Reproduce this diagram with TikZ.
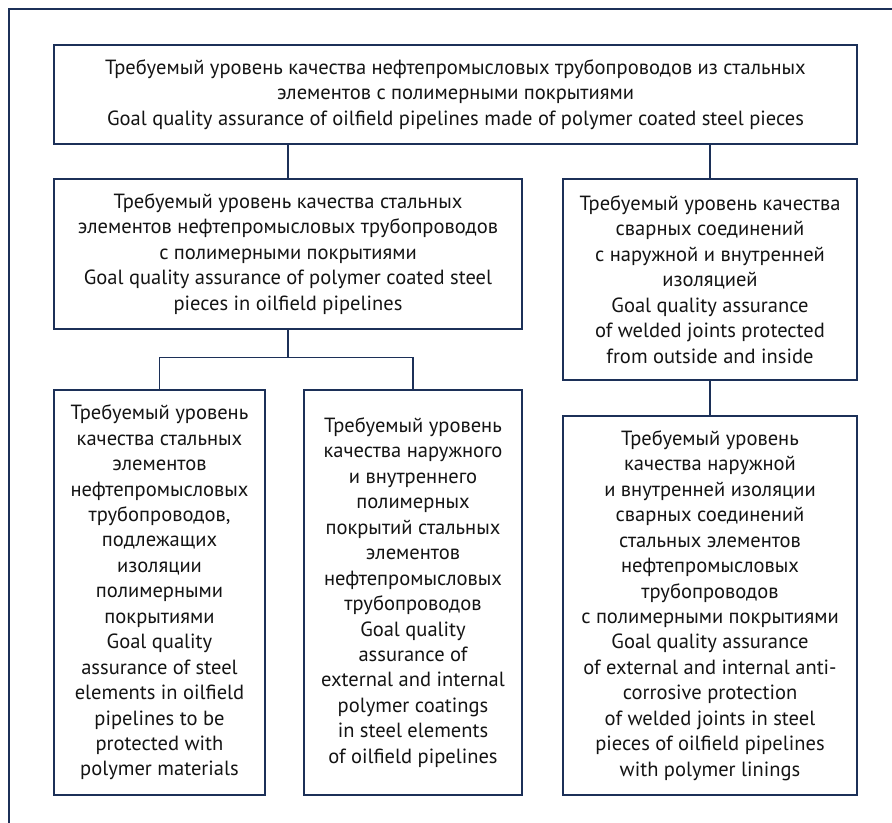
\documentclass[tikz,border=0pt]{standalone}
\usepackage{fontspec}
\setmainfont{PT Sans}
\usepackage{tikz}
\usetikzlibrary{positioning,calc}
\definecolor{frameblue}{RGB}{28,48,88}
\tikzset{goalbox/.style={draw=frameblue,line width=1pt,align=center,inner sep=2pt,text=black!92,font=\fontsize{14.6pt}{18.1pt}\selectfont},
link/.style={draw=frameblue,line width=1pt}}

\begin{document}
\begin{tikzpicture}
%\draw[help lines] (0,-21) grid (23,0);
\useasboundingbox (0,0) rectangle (22.3,-20.575);
\draw[link] (0.225,-20.575)--(0.225,-0.225)--(22.3,-0.225);

\node[goalbox,minimum width=20.075cm,minimum height=2.475cm] (top) at (11.3875,-2.3625) {Требуемый уровень качества нефтепромысловых трубопроводов из стальных\\элементов с полимерными покрытиями\\Goal quality assurance of oilfield pipelines made of polymer coated steel pieces};
\node[goalbox,minimum width=11.7cm,minimum height=3.75cm] (steel) at (7.2,-6.35) {Требуемый уровень качества стальных\\элементов нефтепромысловых трубопроводов\\с полимерными покрытиями\\Goal quality assurance of polymer coated steel\\pieces in oilfield pipelines};
\node[goalbox,minimum width=7.35cm,minimum height=5.025cm] (welds) at (17.75,-6.9875) {Требуемый уровень качества\\сварных соединений\\с наружной и внутренней\\изоляцией\\Goal quality assurance\\of welded joints protected\\from outside and inside};

\node[goalbox,minimum width=5.275cm,minimum height=10.125cm] (pieces) at (3.9875,-14.8125) {Требуемый уровень\\качества стальных\\элементов\\нефтепромысловых\\трубопроводов,\\подлежащих\\изоляции\\полимерными\\покрытиями\\Goal quality\\assurance of steel\\elements in oilfield\\pipelines to be\\protected with\\polymer materials};
\node[goalbox,minimum width=5.45cm,minimum height=10.125cm] (coats) at (10.325,-14.8125) {Требуемый уровень\\качества наружного\\и внутреннего\\полимерных\\покрытий стальных\\элементов\\нефтепромысловых\\трубопроводов\\Goal quality\\assurance of\\external and internal\\polymer coatings\\in steel elements\\of oilfield pipelines};
\node[goalbox,minimum width=7.35cm,minimum height=9.475cm] (linings) at (17.75,-15.1375) {Требуемый уровень\\качества наружной\\и внутренней изоляции\\сварных соединений\\стальных элементов\\нефтепромысловых\\трубопроводов\\с полимерными покрытиями\\Goal quality assurance\\of external and internal anti-\\corrosive protection\\of welded joints in steel\\pieces of oilfield pipelines\\with polymer linings};

\coordinate (fork) at ($(steel.south)+(0,-0.7)$);
\draw[link] (steel.north)--(steel.north |- top.south);
\draw[link] (welds.north)--(welds.north |- top.south);
\draw[link] (steel.south)--(fork);
\draw[link] (pieces.north) |- (fork) -| (coats.north);
\draw[link] (welds.south)--(linings.north);
\end{tikzpicture}
\end{document}
